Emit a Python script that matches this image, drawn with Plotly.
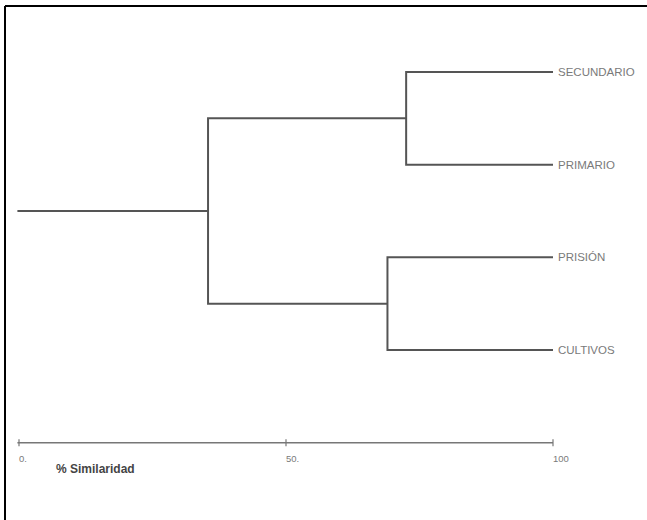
import plotly.graph_objects as go

# Data
leaves = ["SECUNDARIO", "PRIMARIO", "PRISIÓN", "CULTIVOS"]
# merges: (left node, right node, similarity %); nodes 0..3 are leaves, 4.. are clusters
merges = [(0, 1, 72.5), (2, 3, 69.0), (4, 5, 35.4)]
leaf_similarity = 100.0
root_start = -0.3
tick_values = [0, 50, 100]
tick_labels = ["0.", "50.", "100"]
axis_title = "% Similaridad"

line_color = "#555555"
text_color = "#7a7a7a"

fig = go.Figure()

# node positions
pos = {i: (leaf_similarity, float(i)) for i in range(len(leaves))}
xs, ys = [], []
for k, (a, b, s) in enumerate(merges):
    xa, ya = pos[a]
    xb, yb = pos[b]
    xs += [xa, s, s, xb, None]
    ys += [ya, ya, yb, yb, None]
    pos[len(leaves) + k] = (s, (ya + yb) / 2)
rx, ry = pos[len(leaves) + len(merges) - 1]
xs += [rx, root_start, None]
ys += [ry, ry, None]

fig.add_trace(go.Scatter(x=xs, y=ys, mode="lines",
                         line=dict(color=line_color, width=2),
                         hoverinfo="skip", showlegend=False))

axis_y = 4.0
# axis line
fig.add_trace(go.Scatter(x=[root_start, tick_values[-1]], y=[axis_y, axis_y], mode="lines",
                         line=dict(color="#777777", width=1.5),
                         hoverinfo="skip", showlegend=False))
fig.add_trace(go.Scatter(x=tick_values, y=[axis_y] * len(tick_values), mode="markers",
                         marker=dict(symbol="line-ns", size=5,
                                     line=dict(color="#777777", width=1.2)),
                         hoverinfo="skip", showlegend=False))

annotations = []
for i, name in enumerate(leaves):
    annotations.append(dict(x=leaf_similarity + 0.5, y=i, text=name, showarrow=False,
                            xanchor="left", yanchor="middle",
                            font=dict(family="Liberation Sans, Arial", size=11.5, color=text_color)))
for v, t in zip(tick_values, tick_labels):
    annotations.append(dict(x=v - 0.4, y=axis_y + 0.17, text=t, showarrow=False,
                            xanchor="left", yanchor="middle",
                            font=dict(family="Liberation Sans, Arial", size=9.5, color=text_color)))
annotations.append(dict(x=6.6, y=axis_y + 0.28, text="<b>" + axis_title + "</b>", showarrow=False,
                        xanchor="left", yanchor="middle",
                        font=dict(family="Liberation Sans, Arial", size=12, color="#444444")))

W, H = 647, 520
fig.update_layout(
    width=W, height=H,
    margin=dict(l=0, r=0, t=0, b=0),
    paper_bgcolor="white", plot_bgcolor="white",
    xaxis=dict(range=[-19 / 5.34, (W - 19) / 5.34], visible=False, fixedrange=True),
    yaxis=dict(range=[(H - 72) / 92.67, -72 / 92.67], visible=False, fixedrange=True),
    annotations=annotations,
    shapes=[
        dict(type="line", xref="paper", yref="paper", x0=5 / W, x1=1.0,
             y0=1 - 6 / H, y1=1 - 6 / H, line=dict(color="black", width=2)),
        dict(type="line", xref="paper", yref="paper", x0=5 / W, x1=5 / W,
             y0=0, y1=1 - 6 / H, line=dict(color="black", width=2)),
    ],
)

fig.write_html(
    "out.html",
    config={"displayModeBar": False},
    post_script="document.body.style.margin='0';document.body.style.overflow='hidden';",
)
